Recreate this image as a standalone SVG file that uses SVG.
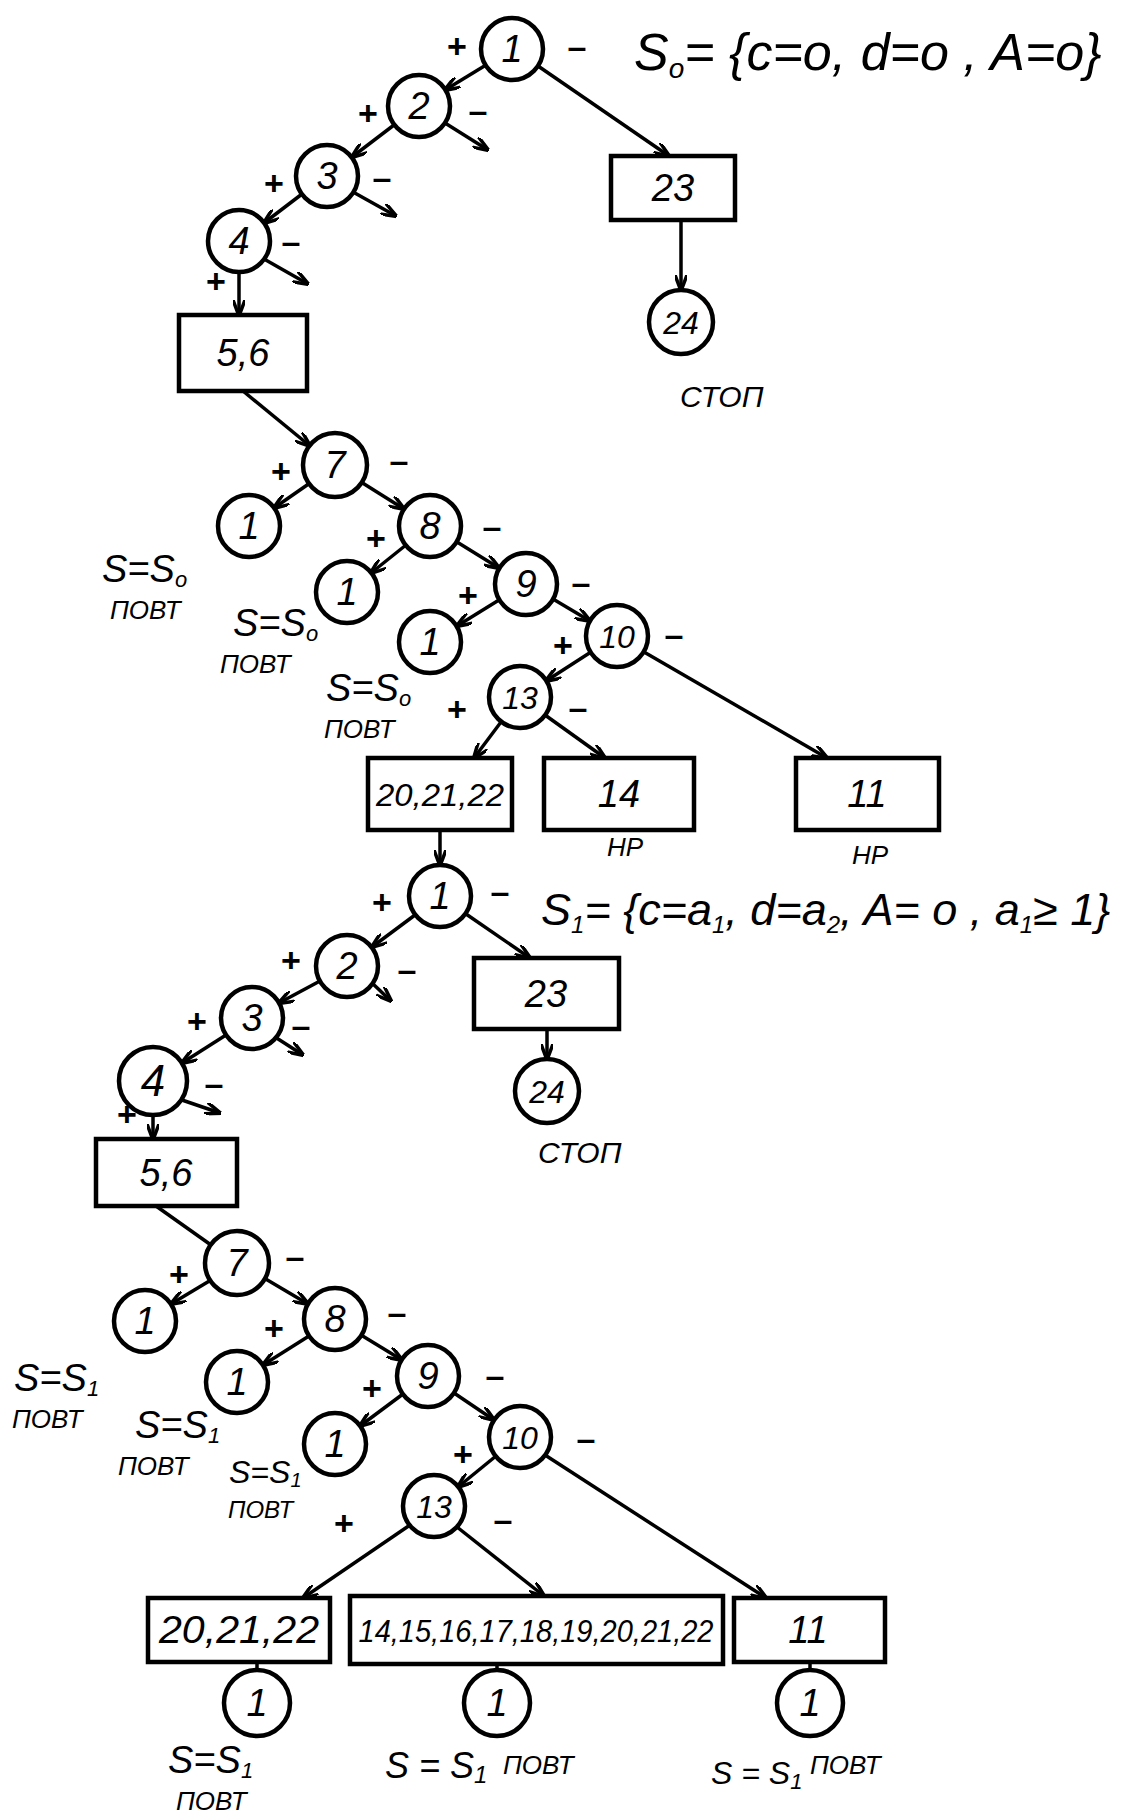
<svg xmlns="http://www.w3.org/2000/svg" width="1122" height="1813" viewBox="0 0 1122 1813">
<style>
.n{fill:#fff;stroke:#000;stroke-width:4.5}
.b{fill:#fff;stroke:#000;stroke-width:4.5}
.e{stroke:#000;stroke-width:3.5;fill:none;marker-end:url(#ah)}
.p{stroke:#000;stroke-width:3.5;fill:none}
text{font-family:"Liberation Sans","DejaVu Sans",sans-serif;font-style:italic;fill:#000}
.t{font-size:38px;text-anchor:middle}
.t2{font-size:32px;text-anchor:middle}
.s{font-size:34px;font-style:normal;font-weight:bold;text-anchor:middle}
.f{font-size:48px}
.l{font-size:38px}
.w{font-size:26px}
.sub{font-size:26px}
.sb{font-size:22px}
</style>
<defs>
<marker id="ah" viewBox="0 0 16 12" refX="15" refY="6" markerWidth="16" markerHeight="12" markerUnits="userSpaceOnUse" orient="auto">
<path d="M0,0 L16,6 L0,12" fill="none" stroke="#000" stroke-width="3.5"/>
</marker>
</defs>
<rect width="1122" height="1813" fill="#fff"/>

<g id="connectors">
<line class="e" x1="486" y1="65" x2="445" y2="90"/>
<line class="e" x1="394" y1="125" x2="352" y2="157"/>
<line class="e" x1="302" y1="194" x2="264" y2="223"/>
<line class="e" x1="239" y1="272" x2="239" y2="315"/>
<line class="e" x1="538" y1="66" x2="669" y2="156"/>
<line class="e" x1="681" y1="220" x2="681" y2="290"/>
<line class="e" x1="445" y1="123" x2="488" y2="150"/>
<line class="e" x1="353" y1="192" x2="396" y2="216"/>
<line class="e" x1="264" y1="259" x2="308" y2="284"/>
<line class="e" x1="243" y1="391" x2="310" y2="446"/>
<line class="e" x1="310" y1="483" x2="274" y2="508"/>
<line class="e" x1="361" y1="482" x2="404" y2="509"/>
<line class="e" x1="406" y1="545" x2="371" y2="573"/>
<line class="e" x1="457" y1="542" x2="499" y2="568"/>
<line class="e" x1="499" y1="600" x2="457" y2="626"/>
<line class="e" x1="553" y1="599" x2="590" y2="621"/>
<line class="e" x1="591" y1="652" x2="546" y2="681"/>
<line class="e" x1="644" y1="652" x2="827" y2="758"/>
<line class="e" x1="501" y1="722" x2="474" y2="758"/>
<line class="e" x1="545" y1="715" x2="605" y2="758"/>
<line class="e" x1="440" y1="830" x2="440" y2="865"/>

<line class="e" x1="415" y1="915" x2="372" y2="947"/>
<line class="e" x1="466" y1="914" x2="530" y2="958"/>
<line class="e" x1="320" y1="981" x2="279" y2="1003"/>
<line class="e" x1="226" y1="1035" x2="182" y2="1063"/>
<line class="e" x1="153" y1="1115" x2="153" y2="1139"/>
<line class="e" x1="547" y1="1029" x2="547" y2="1059"/>
<line class="e" x1="372" y1="983" x2="391" y2="1001"/>
<line class="e" x1="275" y1="1037" x2="303" y2="1055"/>
<line class="e" x1="179" y1="1099" x2="220" y2="1113"/>
<line class="p" x1="156" y1="1206" x2="211" y2="1245"/>
<line class="e" x1="211" y1="1280" x2="171" y2="1304"/>
<line class="e" x1="264" y1="1278" x2="308" y2="1304"/>
<line class="e" x1="309" y1="1336" x2="263" y2="1365"/>
<line class="e" x1="361" y1="1335" x2="402" y2="1360"/>
<line class="e" x1="403" y1="1394" x2="360" y2="1426"/>
<line class="e" x1="454" y1="1393" x2="494" y2="1420"/>
<line class="e" x1="496" y1="1456" x2="458" y2="1487"/>
<line class="e" x1="545" y1="1455" x2="766" y2="1598"/>
<line class="e" x1="410" y1="1525" x2="303" y2="1598"/>
<line class="e" x1="457" y1="1527" x2="544" y2="1596"/>
<line class="p" x1="257" y1="1662" x2="257" y2="1670"/>
<line class="p" x1="497" y1="1664" x2="497" y2="1670"/>
<line class="p" x1="810" y1="1662" x2="810" y2="1670"/>
</g>

<g id="edge-labels">
<text class="s" x="457" y="58">+</text>
<text class="s" x="577" y="58">–</text>
<text class="s" x="368" y="125">+</text>
<text class="s" x="478" y="122">–</text>
<text class="s" x="274" y="195">+</text>
<text class="s" x="382" y="189">–</text>
<text class="s" x="291" y="253">–</text>
<text class="s" x="216" y="293">+</text>
<text class="s" x="281" y="483">+</text>
<text class="s" x="399" y="472">–</text>
<text class="s" x="376" y="550">+</text>
<text class="s" x="492" y="538">–</text>
<text class="s" x="468" y="607">+</text>
<text class="s" x="581" y="594">–</text>
<text class="s" x="563" y="657">+</text>
<text class="s" x="674" y="646">–</text>
<text class="s" x="457" y="721">+</text>
<text class="s" x="578" y="719">–</text>

<text class="s" x="382" y="914">+</text>
<text class="s" x="500" y="903">–</text>
<text class="s" x="291" y="972">+</text>
<text class="s" x="407" y="981">–</text>
<text class="s" x="197" y="1033">+</text>
<text class="s" x="301" y="1037">–</text>
<text class="s" x="214" y="1095">–</text>
<text class="s" x="127" y="1126">+</text>
<text class="s" x="179" y="1286">+</text>
<text class="s" x="295" y="1268">–</text>
<text class="s" x="274" y="1340">+</text>
<text class="s" x="397" y="1324">–</text>
<text class="s" x="372" y="1400">+</text>
<text class="s" x="495" y="1387">–</text>
<text class="s" x="463" y="1466">+</text>
<text class="s" x="586" y="1450">–</text>
<text class="s" x="344" y="1535">+</text>
<text class="s" x="503" y="1531">–</text>
</g>

<g id="n1a"><circle class="n" cx="512" cy="49" r="31"/><text class="t" x="512" y="62">1</text></g>
<g id="n2a"><circle class="n" cx="419" cy="106" r="31"/><text class="t" x="419" y="119">2</text></g>
<g id="n3a"><circle class="n" cx="327" cy="176" r="31"/><text class="t" x="327" y="189">3</text></g>
<g id="n4a"><circle class="n" cx="239" cy="241" r="31"/><text class="t" x="239" y="254">4</text></g>
<g id="b56a"><rect class="b" x="179" y="315" width="128" height="76"/><text class="t" x="243" y="366">5,6</text></g>
<g id="b23a"><rect class="b" x="611" y="156" width="124" height="64"/><text class="t" x="673" y="201">23</text></g>
<g id="n24a"><circle class="n" cx="681" cy="322" r="32"/><text class="t2" x="681" y="334">24</text></g>
<g id="stop1"><text x="680" y="407" style="font-size:30px">СТОП</text></g>
<g id="s0"><text x="634" y="70" style="font-size:52px">S<tspan style="font-size:28px" dy="8">o</tspan><tspan dy="-8">= {c=o, d=o , A=o}</tspan></text></g>

<g id="n7a"><circle class="n" cx="335" cy="465" r="32"/><text class="t" x="335" y="478">7</text></g>
<g id="n1b"><circle class="n" cx="249" cy="526" r="31"/><text class="t" x="249" y="539">1</text></g>
<g id="n8a"><circle class="n" cx="430" cy="526" r="31"/><text class="t" x="430" y="539">8</text></g>
<g id="n1c"><circle class="n" cx="347" cy="592" r="31"/><text class="t" x="347" y="605">1</text></g>
<g id="n9a"><circle class="n" cx="526" cy="584" r="31"/><text class="t" x="526" y="597">9</text></g>
<g id="n1d"><circle class="n" cx="430" cy="642" r="31"/><text class="t" x="430" y="655">1</text></g>
<g id="n10a"><circle class="n" cx="617" cy="636" r="31"/><text class="t2" x="617" y="648">10</text></g>
<g id="n13a"><circle class="n" cx="520" cy="697" r="31"/><text class="t2" x="520" y="709">13</text></g>
<g id="b20a"><rect class="b" x="368" y="758" width="144" height="72"/><text class="t2" x="440" y="806" textLength="128" lengthAdjust="spacingAndGlyphs">20,21,22</text></g>
<g id="b14a"><rect class="b" x="544" y="758" width="150" height="72"/><text class="t" x="619" y="807">14</text></g>
<g id="b11a"><rect class="b" x="796" y="758" width="143" height="72"/><text class="t" x="867" y="807">11</text></g>
<g id="hp"><text class="w" x="607" y="856">НР</text><text class="w" x="852" y="864">НР</text></g>

<g id="rep0a"><text class="l" x="102" y="582">S=S<tspan class="sb" dy="5">o</tspan></text><text class="w" x="110" y="619">ПОВТ</text></g>
<g id="rep0b"><text class="l" x="233" y="636">S=S<tspan class="sb" dy="5">o</tspan></text><text class="w" x="220" y="673">ПОВТ</text></g>
<g id="rep0c"><text class="l" x="326" y="701">S=S<tspan class="sb" dy="5">o</tspan></text><text class="w" x="324" y="738">ПОВТ</text></g>

<g id="n1e"><circle class="n" cx="440" cy="896" r="31"/><text class="t" x="440" y="909">1</text></g>
<g id="s1"><text x="541" y="925" style="font-size:45px">S<tspan style="font-size:24px" dy="8">1</tspan><tspan dy="-8">= {c=a</tspan><tspan style="font-size:24px" dy="8">1</tspan><tspan dy="-8">, d=a</tspan><tspan style="font-size:24px" dy="8">2</tspan><tspan dy="-8">, A= o , a</tspan><tspan style="font-size:24px" dy="8">1</tspan><tspan dy="-8">≥ 1}</tspan></text></g>
<g id="n2b"><circle class="n" cx="347" cy="966" r="31"/><text class="t" x="347" y="979">2</text></g>
<g id="n3b"><circle class="n" cx="252" cy="1018" r="31"/><text class="t" x="252" y="1031">3</text></g>
<g id="n4b"><circle class="n" cx="153" cy="1081" r="34"/><text class="t" x="153" y="1096" style="font-size:44px">4</text></g>
<g id="b56b"><rect class="b" x="96" y="1139" width="141" height="67"/><text class="t" x="166" y="1186">5,6</text></g>
<g id="b23b"><rect class="b" x="474" y="958" width="145" height="71"/><text class="t" x="546" y="1007">23</text></g>
<g id="n24b"><circle class="n" cx="547" cy="1091" r="32"/><text class="t2" x="547" y="1103">24</text></g>
<g id="stop2"><text x="538" y="1163" style="font-size:30px">СТОП</text></g>

<g id="n7b"><circle class="n" cx="237" cy="1263" r="32"/><text class="t" x="237" y="1276">7</text></g>
<g id="n1f"><circle class="n" cx="145" cy="1321" r="31"/><text class="t" x="145" y="1334">1</text></g>
<g id="n8b"><circle class="n" cx="335" cy="1319" r="31"/><text class="t" x="335" y="1332">8</text></g>
<g id="n1g"><circle class="n" cx="237" cy="1382" r="31"/><text class="t" x="237" y="1395">1</text></g>
<g id="n9b"><circle class="n" cx="428" cy="1376" r="31"/><text class="t" x="428" y="1389">9</text></g>
<g id="n1h"><circle class="n" cx="335" cy="1444" r="31"/><text class="t" x="335" y="1457">1</text></g>
<g id="n10b"><circle class="n" cx="520" cy="1437" r="31"/><text class="t2" x="520" y="1449">10</text></g>
<g id="n13b"><circle class="n" cx="434" cy="1506" r="31"/><text class="t2" x="434" y="1518">13</text></g>
<g id="b20b"><rect class="b" x="148" y="1598" width="182" height="64"/><text class="t" x="239" y="1643" textLength="160" lengthAdjust="spacingAndGlyphs">20,21,22</text></g>
<g id="b14b"><rect class="b" x="350" y="1596" width="373" height="68"/><text class="t2" x="536" y="1642" textLength="355" lengthAdjust="spacingAndGlyphs">14,15,16,17,18,19,20,21,22</text></g>
<g id="b11b"><rect class="b" x="734" y="1598" width="151" height="64"/><text class="t" x="808" y="1643">11</text></g>
<g id="n1i"><circle class="n" cx="257" cy="1703" r="33"/><text class="t" x="257" y="1716">1</text></g>
<g id="n1j"><circle class="n" cx="497" cy="1703" r="33"/><text class="t" x="497" y="1716">1</text></g>
<g id="n1k"><circle class="n" cx="810" cy="1703" r="33"/><text class="t" x="810" y="1716">1</text></g>

<g id="rep1a"><text class="l" x="14" y="1391">S=S<tspan class="sb" dy="5">1</tspan></text><text class="w" x="12" y="1428">ПОВТ</text></g>
<g id="rep1b"><text class="l" x="135" y="1438">S=S<tspan class="sb" dy="5">1</tspan></text><text class="w" x="118" y="1475">ПОВТ</text></g>
<g id="rep1c"><text x="229" y="1483" style="font-size:32px">S=S<tspan class="sb" style="font-size:20px" dy="4">1</tspan></text><text class="w" x="228" y="1518" style="font-size:24px">ПОВТ</text></g>
<g id="rep1d"><text class="l" x="168" y="1773">S=S<tspan class="sb" dy="5">1</tspan></text><text class="w" x="176" y="1810">ПОВТ</text></g>
<g id="rep1e"><text x="385" y="1778" style="font-size:36px">S = S<tspan class="sb" style="font-size:24px" dy="5">1</tspan></text><text class="w" x="503" y="1774">ПОВТ</text></g>
<g id="rep1f"><text x="711" y="1784" style="font-size:32px">S = S<tspan class="sb" dy="5">1</tspan></text><text class="w" x="810" y="1774">ПОВТ</text></g>
</svg>
